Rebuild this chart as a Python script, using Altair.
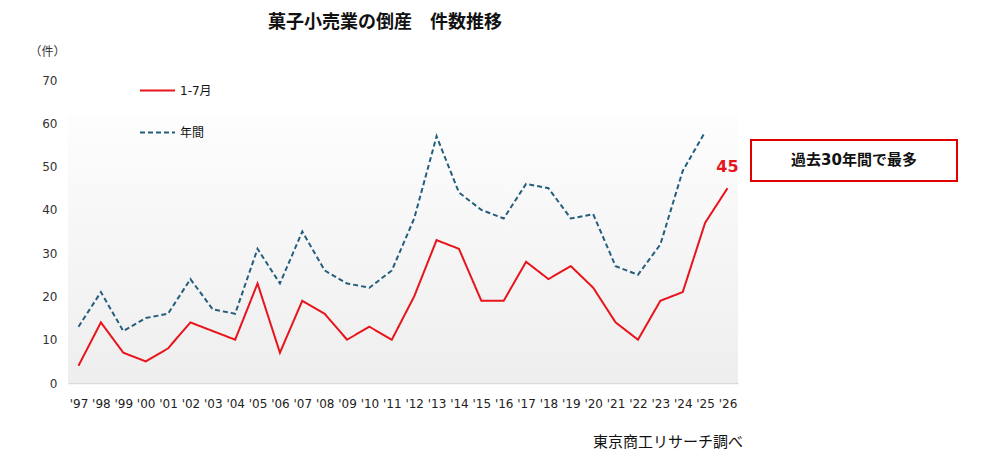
import altair as alt
import pandas as pd

# 菓子小売業の倒産 件数推移 (東京商工リサーチ)
years = ["'97", "'98", "'99", "'00", "'01", "'02", "'03", "'04", "'05", "'06",
         "'07", "'08", "'09", "'10", "'11", "'12", "'13", "'14", "'15", "'16",
         "'17", "'18", "'19", "'20", "'21", "'22", "'23", "'24", "'25", "'26"]
jan_jul = [4, 14, 7, 5, 8, 14, 12, 10, 23, 7,
           19, 16, 10, 13, 10, 20, 33, 31, 19, 19,
           28, 24, 27, 22, 14, 10, 19, 21, 37, 45]
annual = [13, 21, 12, 15, 16, 24, 17, 16, 31, 23,
          35, 26, 23, 22, 26, 38, 57, 44, 40, 38,
          46, 45, 38, 39, 27, 25, 32, 49, 58]

series_names = ["1-7月", "年間"]
series_colors = ["#e8141b", "#245e7c"]

rows = []
for i, y in enumerate(years):
    rows.append({"year": y, "series": "1-7月", "count": jan_jul[i]})
    if i < len(annual):
        rows.append({"year": y, "series": "年間", "count": annual[i]})
df = pd.DataFrame(rows)

last = pd.DataFrame({"year": [years[-1]], "count": [jan_jul[-1]]})
panel = pd.DataFrame({"lo": [0], "hi": [62]})

FONT = "DejaVu Sans, Noto Sans CJK JP"

x_enc = alt.X("year:O", sort=years, scale=alt.Scale(padding=0.47),
              axis=alt.Axis(title=None, labelAngle=0, ticks=False,
                            labelPadding=15, labelFontSize=12,
                            labelColor="#222222", domainColor="#d9d9d9",
                            domainWidth=1.5))
y_enc = alt.Y("count:Q", scale=alt.Scale(domain=[0, 70]),
              axis=alt.Axis(values=list(range(0, 71, 10)), grid=False,
                            ticks=False, domain=False, labelPadding=11,
                            labelFontSize=12, labelColor="#333333",
                            title="（件）", titleAngle=0, titleFontWeight="normal",
                            titleFontSize=12, titleX=-21, titleY=-22,
                            titleAlign="center", titleColor="#333333"))

# gradient panel behind the lines
grad = alt.Gradient(
    gradient="linear", x1=0, y1=1, x2=0, y2=0,
    stops=[alt.GradientStop(offset=0, color="#eeeeee"),
           alt.GradientStop(offset=1, color="#fdfdfd")],
)
bg = alt.Chart(panel).mark_rect(color=grad).encode(
    x=alt.value(0), x2=alt.value(670),
    y=alt.Y("lo:Q", scale=alt.Scale(domain=[0, 70])), y2="hi:Q",
)

lines = alt.Chart(df).mark_line(strokeWidth=2).encode(
    x=x_enc,
    y=y_enc,
    color=alt.Color("series:N",
                    scale=alt.Scale(domain=series_names, range=series_colors),
                    legend=alt.Legend(title=None, orient="none", legendX=71,
                                      legendY=-8, symbolType="stroke",
                                      symbolSize=1225, symbolStrokeWidth=2,
                                      labelFontSize=12, labelColor="#111111",
                                      labelOffset=4, rowPadding=17)),
    strokeDash=alt.StrokeDash("series:N",
                              scale=alt.Scale(domain=series_names,
                                              range=[[1, 0], [5, 3]]),
                              legend=None),
)

label45 = alt.Chart(last).mark_text(
    color="#e8141b", fontSize=16, fontWeight="bold", dy=-21, font=FONT
).encode(x=alt.X("year:O", sort=years), y="count:Q", text="count:Q")

box = alt.Chart(last).mark_rect(
    fill="white", stroke="#e00000", strokeWidth=2
).encode(x=alt.value(683), x2=alt.value(889), y=alt.value(60), y2=alt.value(101))

box_text = alt.Chart(last).mark_text(
    text="過去30年間で最多", fontSize=15, fontWeight="bold", color="#111111", font=FONT
).encode(x=alt.value(786), y=alt.value(80))

source = alt.Chart(last).mark_text(
    text="東京商工リサーチ調べ", fontSize=15, align="right", color="#111111", font=FONT
).encode(x=alt.value(675), y=alt.value(362))

chart = alt.layer(bg, lines, label45, box, box_text, source).properties(
    width=670,
    height=303,
    autosize=alt.AutoSizeParams(type="none"),
    padding={"left": 60, "top": 72, "right": 230, "bottom": 75},
    title=alt.TitleParams("菓子小売業の倒産　件数推移", fontSize=18,
                          fontWeight="bold", anchor="middle", dx=-18,
                          offset=13, font=FONT, color="#111111"),
).configure(font=FONT).configure_view(stroke=None)

chart.save("out.html", embed_options={"renderer": "svg", "actions": False})
